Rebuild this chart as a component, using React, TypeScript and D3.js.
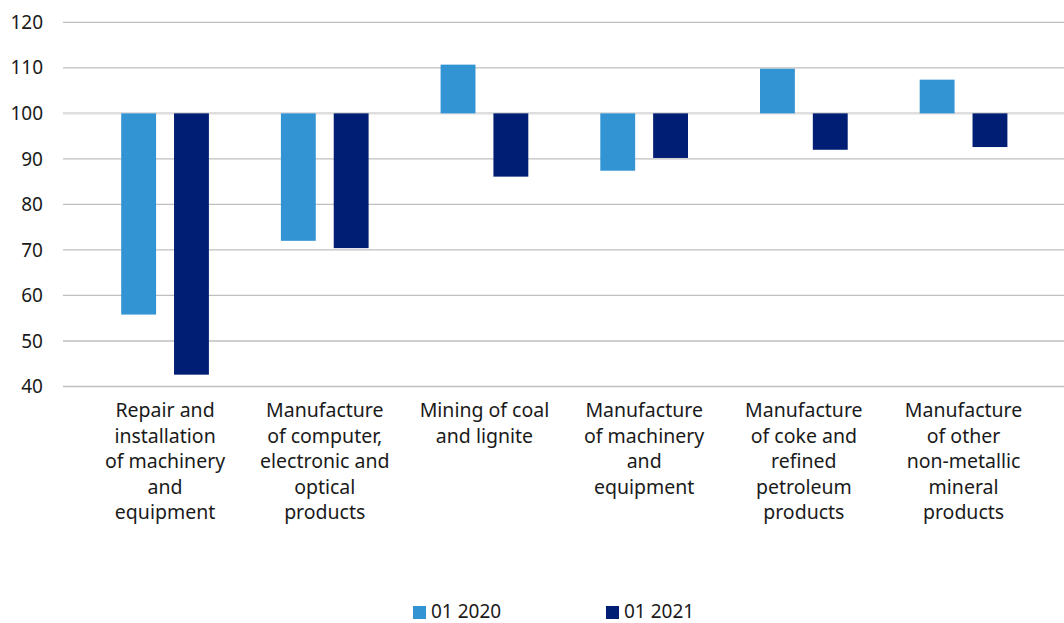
import React from 'react'
import * as d3 from 'd3'

// category labels, already wrapped as in the picture
const categories = [
  ['Repair and', 'installation', 'of machinery', 'and', 'equipment'],
  ['Manufacture', 'of computer,', 'electronic and', 'optical', 'products'],
  ['Mining of coal', 'and lignite'],
  ['Manufacture', 'of machinery', 'and', 'equipment'],
  ['Manufacture', 'of coke and', 'refined', 'petroleum', 'products'],
  ['Manufacture', 'of other', 'non-metallic', 'mineral', 'products'],
]
const seriesNames = ['01 2020', '01 2021']
const values2020 = [55.8, 72.0, 110.7, 87.4, 109.8, 107.4]
const values2021 = [42.6, 70.4, 86.1, 90.2, 92.0, 92.6]
const yTicks = [40, 50, 60, 70, 80, 90, 100, 110, 120]

const colors = ['#3394d4', '#001e73']
const font = '"Noto Sans", sans-serif'

const W = 1064
const H = 623

export default function App() {
  const series = [values2020, values2021]
  const y = d3.scaleLinear().domain([40, 120]).range([386.5, 22.3])
  const x0 = d3.scaleBand<number>()
    .domain(categories.map((_, i) => i))
    .range([85.2, 1043.4])
  const x1 = d3.scaleBand<number>()
    .domain([0, 1])
    .range([36, x0.bandwidth() - 36])
    .paddingInner(0.34)

  return (
    <svg width={W} height={H} style={{position: 'absolute', left: 0, top: 0, background: '#fff'}}
      fontFamily={font}>
      {/* gridlines */}
      {yTicks.map(t => (
        <line key={t} x1={63} x2={W} y1={y(t)} y2={y(t)} stroke="#bfbfbf" strokeWidth={1.3} />
      ))}
      {/* axis at 100 */}
      <line x1={63} x2={W} y1={y(100)} y2={y(100)} stroke="#dedede" strokeWidth={2.5} />
      {yTicks.map(t => (
        <text key={'l' + t} x={43} y={y(t)} dy="0.35em" textAnchor="end" fontSize={19} fill="#1a1a1a">{t}</text>
      ))}

      {/* bars from the 100 baseline */}
      {categories.map((_, i) => series.map((vals, s) => {
        const v = vals[i]
        const top = y(Math.max(v, 100))
        const bot = y(Math.min(v, 100))
        return (
          <rect key={i + '-' + s}
            x={x0(i)! + x1(s)!} width={x1.bandwidth()}
            y={top} height={bot - top}
            fill={colors[s]} />
        )
      }))}

      {/* category labels */}
      {categories.map((lines, i) => (
        <text key={'c' + i} x={x0(i)! + x0.bandwidth() / 2} y={417} textAnchor="middle" fontSize={19.5} fill="#1a1a1a">
          {lines.map((ln, j) => (
            <tspan key={j} x={x0(i)! + x0.bandwidth() / 2} dy={j === 0 ? 0 : 25.5}>{ln}</tspan>
          ))}
        </text>
      ))}

      {/* legend */}
      {seriesNames.map((name, s) => (
        <g key={name} transform={`translate(${413 + s * 193}, 0)`}>
          <rect x={0} y={606} width={13} height={13} fill={colors[s]} />
          <text x={18} y={618} fontSize={19} fill="#1a1a1a">{name}</text>
        </g>
      ))}
    </svg>
  )
}
